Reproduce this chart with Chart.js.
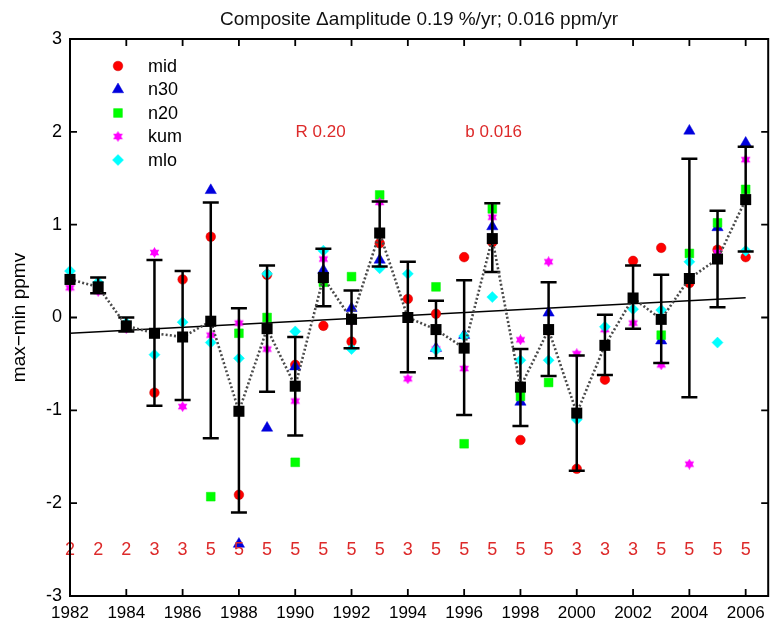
<!DOCTYPE html>
<html><head><meta charset="utf-8">
<script src="https://cdn.jsdelivr.net/npm/chart.js@4/dist/chart.umd.min.js"></script>
<style>html,body{margin:0;padding:0;background:#fff}</style>
</head><body>
<canvas id="c" width="776" height="623"></canvas>
<script>
const years = [1982,1983,1984,1985,1986,1987,1988,1989,1990,1991,1992,1993,1994,1995,1996,1997,1998,1999,2000,2001,2002,2003,2004,2005,2006];
const composite = [0.41,0.33,-0.09,-0.17,-0.21,-0.04,-1.01,-0.12,-0.74,0.43,-0.02,0.91,0.00,-0.13,-0.33,0.85,-0.75,-0.13,-1.03,-0.30,0.21,-0.02,0.42,0.63,1.27];
const errUpper = [null,0.43,0.00,0.62,0.50,1.24,0.10,0.56,-0.21,0.74,0.29,1.25,0.60,0.18,0.40,1.23,-0.34,0.38,-0.41,0.03,0.56,0.46,1.71,1.15,1.84];
const errLower = [null,0.26,-0.15,-0.95,-0.89,-1.30,-2.10,-0.80,-1.27,0.12,-0.33,0.55,-0.59,-0.44,-1.05,0.49,-1.17,-0.63,-1.65,-0.62,-0.12,-0.49,-0.86,0.11,0.71];
const mid = [null,null,null,-0.81,0.41,0.87,-1.91,0.46,-0.51,-0.09,-0.26,0.80,0.20,0.04,0.65,0.81,-1.32,-0.14,-1.63,-0.67,0.61,0.75,0.37,0.73,0.65];
const n30 = [null,null,null,null,null,1.37,-2.44,-1.19,-0.53,0.51,0.10,0.62,null,-0.33,-0.19,0.98,-0.91,0.05,null,null,null,-0.25,2.01,0.97,1.88];
const n20 = [null,null,null,null,null,-1.93,-0.17,0.00,-1.56,0.38,0.44,1.32,null,0.33,-1.36,1.17,-0.85,-0.70,null,null,null,-0.19,0.69,1.02,1.38];
const kum = [0.32,0.28,-0.12,0.70,-0.96,-0.19,-0.06,-0.34,-0.90,0.63,-0.04,1.24,-0.66,-0.34,-0.55,1.08,-0.24,0.60,-0.39,-0.13,-0.06,-0.51,-1.58,0.70,1.70];
const mlo = [0.50,0.38,-0.06,-0.40,-0.05,-0.27,-0.44,0.47,-0.15,0.72,-0.34,0.53,0.47,-0.35,-0.20,0.22,-0.46,-0.46,-1.10,-0.10,0.09,0.08,0.60,-0.27,0.72];
const stationCounts = [2,2,2,3,3,5,5,5,5,5,5,5,3,5,5,5,5,5,3,3,3,5,5,5,5];
const countLevel = -2.5;
const trendYears = [1982,2006];
const trendValues = [-0.17,0.214];
const xTicks = [1982,1984,1986,1988,1990,1992,1994,1996,1998,2000,2002,2004,2006];
const yTicks = [-3,-2,-1,0,1,2,3];
const titleText = 'Composite \u0394amplitude 0.19 %/yr; 0.016 ppm/yr';
const yTitle = 'max\u2212min ppmv';
const noteTexts = ['R 0.20','b 0.016'];
const noteX = [1990.9,1997.05];
const noteY = [2.0,2.0];
const seriesNames = ['mid','n30','n20','kum','mlo'];

const FONT = "'Liberation Sans', Arial, Helvetica, sans-serif";
const RED = '#dd2a2a';

function pairs(vals){ const out=[]; years.forEach((y,i)=>{ if(vals[i]!=null) out.push({x:y,y:vals[i]}); }); return out; }
function hexagram(size,color){
  const c=document.createElement('canvas'); c.width=c.height=size;
  const g=c.getContext('2d'); const r=size/2; g.fillStyle=color;
  for(let k=0;k<2;k++){ g.beginPath();
    for(let i=0;i<3;i++){ const a=-Math.PI/2+k*Math.PI+i*2*Math.PI/3; const px=r+r*Math.cos(a), py=r+r*Math.sin(a); if(i) g.lineTo(px,py); else g.moveTo(px,py); }
    g.closePath(); g.fill(); }
  return c;
}
const star = hexagram(11,'#ff00ff');

const stationStyles = [
  {data:mid, color:'#ff0000', border:'#cc0000', style:'circle', r:4.8, order:5},
  {data:n30, color:'#0000dd', border:'#0000dd', style:'triangle', r:6.5, order:4},
  {data:n20, color:'#00ff00', border:'#00ee00', style:'rect', r:6.2, order:3},
  {data:kum, color:'#ff00ff', border:'#ff00ff', style:star, r:5.5, order:2},
  {data:mlo, color:'#00ffff', border:'#00ffff', style:'rectRot', r:5.5, order:1}
];

const datasets = [
  {label:'composite', data:pairs(composite), showLine:true, borderColor:'#4a4a4a', borderWidth:2.6, borderDash:[2,2.2],
   pointStyle:'rect', pointRadius:7.8, pointBackgroundColor:'#000', pointBorderColor:'#000', pointBorderWidth:0, order:0, clip:false}
];
stationStyles.forEach((s,k)=>datasets.push({label:seriesNames[k], data:pairs(s.data), showLine:false, clip:false,
  pointStyle:s.style, pointRadius:s.r, pointBackgroundColor:s.color, pointBorderColor:s.border, pointBorderWidth:0.5, order:s.order}));
datasets.push({label:'trend', data:trendYears.map((y,i)=>({x:y,y:trendValues[i]})), showLine:true, borderColor:'#000', borderWidth:1.5, pointRadius:0, order:6});

const extras = {
  id:'extras',
  beforeDatasetDraw(chart,args){
    if(args.index!==0) return;
    const xs=chart.scales.x, ys=chart.scales.y, ctx=chart.ctx;
    ctx.save(); ctx.strokeStyle='#000'; ctx.lineWidth=2.5;
    years.forEach((yr,i)=>{
      if(errUpper[i]==null) return;
      const px=xs.getPixelForValue(yr), pt=ys.getPixelForValue(errUpper[i]), pb=ys.getPixelForValue(errLower[i]);
      ctx.beginPath(); ctx.moveTo(px,pt); ctx.lineTo(px,pb);
      ctx.moveTo(px-8,pt); ctx.lineTo(px+8,pt); ctx.moveTo(px-8,pb); ctx.lineTo(px+8,pb); ctx.stroke();
    });
    ctx.restore();
  },
  afterDraw(chart){
    const xs=chart.scales.x, ys=chart.scales.y, ctx=chart.ctx, a=chart.chartArea;
    ctx.save();
    ctx.fillStyle=RED; ctx.font='18px '+FONT; ctx.textAlign='center'; ctx.textBaseline='middle';
    years.forEach((yr,i)=>ctx.fillText(String(stationCounts[i]), xs.getPixelForValue(yr), ys.getPixelForValue(countLevel)));
    ctx.font='17px '+FONT;
    noteTexts.forEach((t,i)=>ctx.fillText(t, xs.getPixelForValue(noteX[i]), ys.getPixelForValue(noteY[i])));
    ctx.strokeStyle='#000'; ctx.lineWidth=2;
    ctx.strokeRect(a.left, a.top, a.right-a.left, a.bottom-a.top);
    ctx.lineWidth=1.8; ctx.beginPath();
    xTicks.forEach(v=>{ const p=xs.getPixelForValue(v); ctx.moveTo(p,a.bottom); ctx.lineTo(p,a.bottom-7); ctx.moveTo(p,a.top); ctx.lineTo(p,a.top+7); });
    yTicks.forEach(v=>{ const p=ys.getPixelForValue(v); ctx.moveTo(a.left,p); ctx.lineTo(a.left+7,p); ctx.moveTo(a.right,p); ctx.lineTo(a.right-7,p); });
    ctx.stroke();
    const lx=a.left+48, ty=a.top+27, dy=23.5;
    ctx.font='18px '+FONT; ctx.textAlign='left'; ctx.fillStyle='#000';
    stationStyles.forEach((s,k)=>{
      const y=ty+k*dy;
      ctx.fillStyle=s.color; ctx.strokeStyle=s.border; ctx.lineWidth=0.5;
      Chart.helpers.drawPoint(ctx,{pointStyle:s.style, radius:s.r, rotation:0, borderWidth:0.5}, lx, y);
      ctx.fillStyle='#000';
      ctx.fillText(seriesNames[k], a.left+78, y+1);
    });
    ctx.restore();
  }
};

new Chart(document.getElementById('c'), {
  type:'scatter',
  data:{datasets},
  plugins:[extras],
  options:{
    responsive:false, devicePixelRatio:1, animation:false,
    layout:{padding:{left:0,right:3,top:0,bottom:0}},
    plugins:{
      legend:{display:false}, tooltip:{enabled:false},
      title:{display:true, text:titleText, fullSize:false, color:'#111', font:{family:FONT, size:19, weight:'normal'}, padding:{top:8,bottom:8.2}}
    },
    scales:{
      x:{type:'linear', min:1982, max:2006.8, border:{display:false}, grid:{display:false, drawTicks:false},
         afterBuildTicks:s=>{ s.ticks=xTicks.map(v=>({value:v})); },
         afterFit:s=>{ s.height=27; },
         ticks:{color:'#000', padding:7, font:{family:FONT,size:17}, callback:v=>String(v), maxRotation:0, autoSkip:false}},
      y:{type:'linear', min:-3, max:3, border:{display:false}, grid:{display:false, drawTicks:false},
         afterBuildTicks:s=>{ s.ticks=yTicks.map(v=>({value:v})); },
         afterFit:s=>{ s.width=70; },
         title:{display:true, text:yTitle, color:'#000', font:{family:FONT,size:19}, padding:{top:8,bottom:0}},
         ticks:{color:'#000', padding:8, font:{family:FONT,size:18}, callback:v=>String(v)}}
    }
  }
});
</script>
</body></html>
